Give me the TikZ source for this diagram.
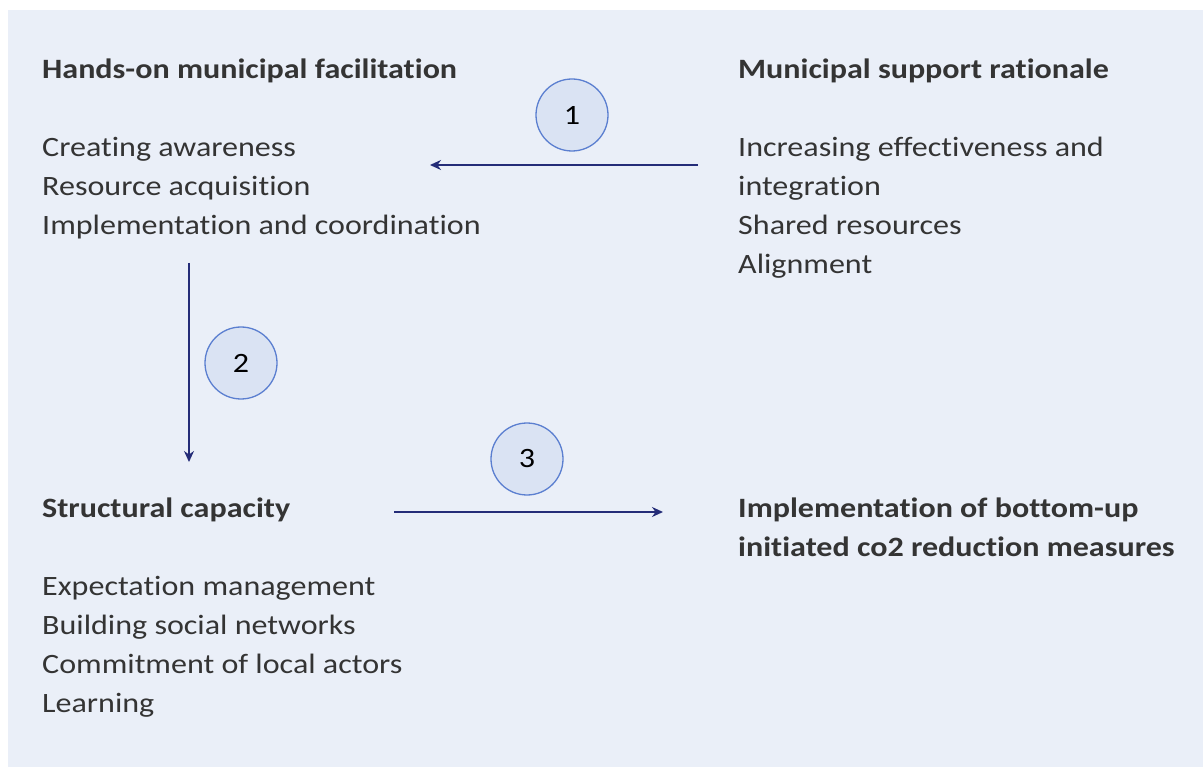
\documentclass[tikz,border=0pt]{standalone}
\usepackage{fontspec}
\setmainfont{Carlito}[FakeStretch=1.145,Ligatures=NoCommon]
\usetikzlibrary{arrows.meta}
\definecolor{panel}{RGB}{234,239,248}
\definecolor{ink}{RGB}{52,52,52}
\definecolor{navy}{RGB}{36,44,120}
\definecolor{discfill}{RGB}{218,227,243}
\definecolor{discline}{RGB}{91,127,208}
\begin{document}
\begin{tikzpicture}[x=1pt,y=-1pt,
  block/.style={anchor=base west, inner sep=0pt, align=left, text=ink,
    font=\fontsize{28}{39}\selectfont},
  flow/.style={draw=navy, line width=1.8pt, -{Stealth[length=11pt,width=10pt]}},
  badge/.style={circle, draw=discline, fill=discfill, line width=1.3pt,
    minimum size=72pt, inner sep=0pt, text=black, font=\fontsize{28}{30}\selectfont}]
\useasboundingbox (0,0) rectangle (1203,767);
\fill[panel] (8,10) rectangle (1203,767);

% text blocks, placed by the baseline of their last line
\node[block] (hands) at (42,235) {\textbf{Hands-on municipal facilitation}\\[39pt]
  Creating awareness\\ Resource acquisition\\ Implementation and coordination};
\node[block] (rationale) at (738,274) {\textbf{Municipal support rationale}\\[39pt]
  Increasing effectiveness and\\ integration\\ Shared resources\\ Alignment};
\node[block] (capacity) at (42,712) {\textbf{Structural capacity}\\[39pt]
  Expectation management\\ Building social networks\\ Commitment of local actors\\ Learning};
\node[block] (outcome) at (738,556) {\textbf{Implementation of bottom-up}\\
  \textbf{initiated co2 reduction measures}};

% connector ends
\coordinate (a1s) at (698,165);
\coordinate (a1e) at (430,165);
\coordinate (a2s) at (189,263);
\coordinate (a2e) at (189,462);
\coordinate (a3s) at (394,512);
\coordinate (a3e) at (663,512);
\draw[flow] (a1s) -- (a1e);
\draw[flow] (a2s) -- (a2e);
\draw[flow] (a3s) -- (a3e);

% numbered badges
\node[badge] (n1) at (572,115) {1};
\node[badge] (n2) at (241,363) {2};
\node[badge] (n3) at (527,459) {3};
\end{tikzpicture}
\end{document}
